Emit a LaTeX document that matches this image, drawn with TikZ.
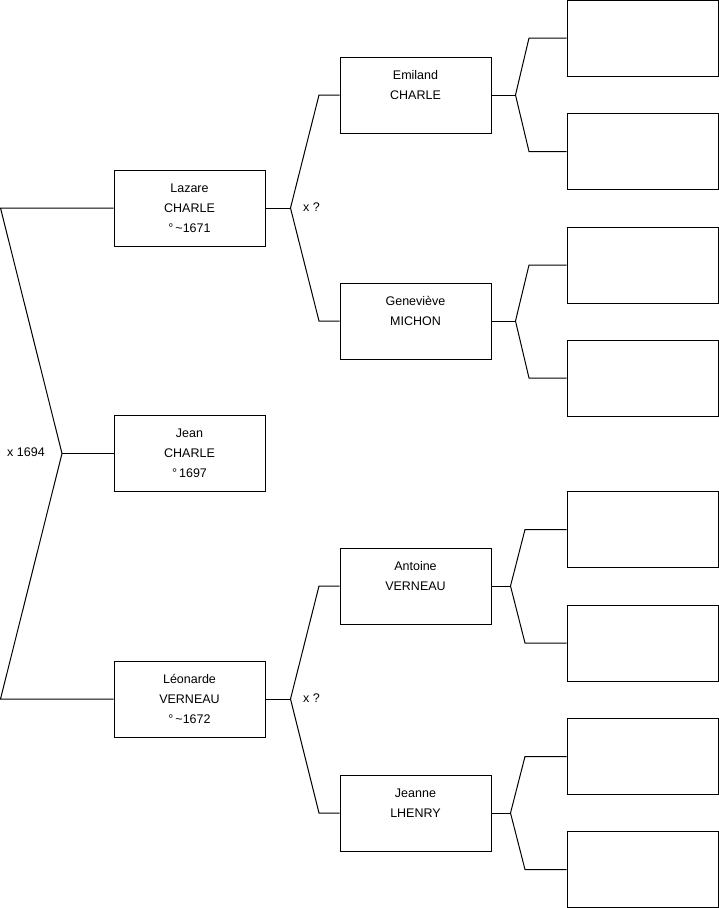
\documentclass[tikz,border=0pt]{standalone}
\usepackage{fontspec}
\setmainfont{Liberation Sans}
\begin{document}
\begin{tikzpicture}[x=1pt,y=-1pt,
  person/.style={draw=black,line width=1pt,fill=white,minimum width=151pt,minimum height=76pt,inner sep=0pt,align=center,font=\fontsize{12.5}{20}\selectfont},
  conn/.style={draw=black,line width=1pt},
  marrlabel/.style={inner sep=0pt,anchor=west,font=\fontsize{12.5}{15}\selectfont}]
\useasboundingbox (0,0) rectangle (719,908);
% generation 1
\node[person] (lazare) at (189.5,208) {\strut Lazare\\\strut CHARLE\\\strut °\,\textasciitilde1671};
\node[person] (jean) at (189.5,453.5) {\strut Jean\\\strut CHARLE\\\strut °\,1697};
\node[person] (leonarde) at (189.5,699) {\strut Léonarde\\\strut VERNEAU\\\strut °\,\textasciitilde1672};
% generation 2
\node[person] (emiland) at (415.5,95) {\strut Emiland\\\strut CHARLE\\\strut};
\node[person] (genevieve) at (415.5,321) {\strut Geneviève\\\strut MICHON\\\strut};
\node[person] (antoine) at (415.5,586) {\strut Antoine\\\strut VERNEAU\\\strut};
\node[person] (jeanne) at (415.5,813) {\strut Jeanne\\\strut LHENRY\\\strut};
% generation 3
\node[person] (r1) at (642.5,38) {};
\node[person] (r2) at (642.5,151.5) {};
\node[person] (r3) at (642.5,265) {};
\node[person] (r4) at (642.5,378) {};
\node[person] (r5) at (642.5,529.5) {};
\node[person] (r6) at (642.5,643) {};
\node[person] (r7) at (642.5,756.5) {};
\node[person] (r8) at (642.5,869.5) {};
% junction points
\coordinate (a0) at (0.5,208);
\coordinate (b0) at (0.5,699);
\coordinate (j0) at (62,453.5);
\coordinate (jL) at (290.5,208);
\coordinate (jLu) at (319,95);
\coordinate (jLd) at (319,321);
\coordinate (jV) at (290.5,699);
\coordinate (jVu) at (319,586);
\coordinate (jVd) at (319,813);
\coordinate (jE) at (515.5,95);
\coordinate (jEu) at (529,38);
\coordinate (jEd) at (529,151.5);
\coordinate (jG) at (515.5,321);
\coordinate (jGu) at (529,265);
\coordinate (jGd) at (529,378);
\coordinate (jA) at (510.5,586);
\coordinate (jAu) at (525,529.5);
\coordinate (jAd) at (525,643);
\coordinate (jJ) at (510.5,813);
\coordinate (jJu) at (525,756.5);
\coordinate (jJd) at (525,869.5);
% connectors
\draw[conn] (lazare.west) -- (a0) -- (j0) -- (b0) -- (leonarde.west);
\draw[conn] (j0) -- (jean.west);
\draw[conn] (lazare.east) -- (jL);
\draw[conn] (emiland.west) -- (jLu) -- (jL) -- (jLd) -- (genevieve.west);
\draw[conn] (leonarde.east) -- (jV);
\draw[conn] (antoine.west) -- (jVu) -- (jV) -- (jVd) -- (jeanne.west);
\draw[conn] (emiland.east) -- (jE);
\draw[conn] (r1.west) -- (jEu) -- (jE) -- (jEd) -- (r2.west);
\draw[conn] (genevieve.east) -- (jG);
\draw[conn] (r3.west) -- (jGu) -- (jG) -- (jGd) -- (r4.west);
\draw[conn] (antoine.east) -- (jA);
\draw[conn] (r5.west) -- (jAu) -- (jA) -- (jAd) -- (r6.west);
\draw[conn] (jeanne.east) -- (jJ);
\draw[conn] (r7.west) -- (jJu) -- (jJ) -- (jJd) -- (r8.west);
% marriage labels
\node[marrlabel] (m0) at (7,452) {x 1694};
\node[marrlabel] (m1) at (303,207.5) {x ?};
\node[marrlabel] (m2) at (303,698.5) {x ?};
\end{tikzpicture}
\end{document}
